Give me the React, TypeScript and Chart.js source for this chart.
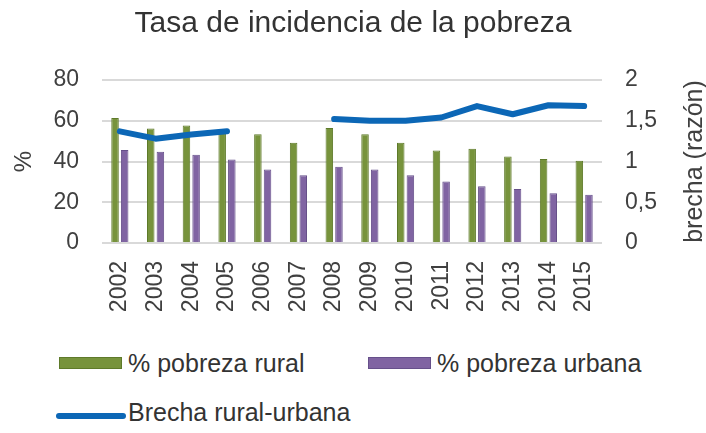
import React, { useEffect, useRef } from "react";
import { Chart, registerables } from "chart.js";

Chart.register(...registerables);

const years = ["2002", "2003", "2004", "2005", "2006", "2007", "2008", "2009", "2010", "2011", "2012", "2013", "2014", "2015"];
const ruralPct = [61.4, 56.2, 57.7, 55.5, 53.4, 49.2, 56.4, 53.4, 49.2, 45.4, 46.2, 42.5, 41.2, 40.4];
const urbanPct = [45.6, 44.8, 43.3, 41.0, 36.1, 33.2, 37.4, 36.1, 33.2, 30.2, 27.9, 26.5, 24.4, 23.7];
const gapRatio: (number | null)[] = [1.37, 1.28, 1.33, 1.37, null, null, 1.52, 1.5, 1.5, 1.54, 1.68, 1.58, 1.69, 1.68];
const leftTicks = [0, 20, 40, 60, 80];
const rightTicks = [0, 0.5, 1, 1.5, 2];

const titleText = "Tasa de incidencia de la pobreza";
const leftAxisTitle = "%";
const rightAxisTitle = "brecha (razón)";
const seriesNames = ["% pobreza rural", "% pobreza urbana", "Brecha rural-urbana"];

const GREEN = "#77933C";
const GREEN_BORDER = "#5E7A2A";
const PURPLE = "#8064A2";
const PURPLE_BORDER = "#66508A";
const BLUE = "#0C67B6";
const TEXT = "#404040";
const FONT = "'Liberation Sans', Arial, sans-serif";

export default function App() {
  const ref = useRef<HTMLCanvasElement | null>(null);

  useEffect(() => {
    document.body.style.margin = "0";
    const canvas = ref.current;
    if (!canvas) return;
    Chart.defaults.font.family = FONT;

    const rightTitlePlugin = {
      id: "rightTitle",
      afterDraw(chart: any) {
        const { ctx, chartArea } = chart;
        ctx.save();
        ctx.translate(695, (chartArea.top + chartArea.bottom) / 2);
        ctx.rotate(-Math.PI / 2);
        ctx.font = `25px ${FONT}`;
        ctx.fillStyle = TEXT;
        ctx.textAlign = "center";
        ctx.textBaseline = "middle";
        ctx.fillText(rightAxisTitle, 0, 0);
        ctx.restore();
      },
    };

    const chart = new Chart(canvas, {
      type: "bar",
      data: {
        labels: years,
        datasets: [
          {
            type: "line",
            label: seriesNames[2],
            data: gapRatio,
            yAxisID: "y1",
            borderColor: BLUE,
            backgroundColor: BLUE,
            borderWidth: 6,
            pointRadius: 0,
            borderCapStyle: "round",
            borderJoinStyle: "round",
            spanGaps: false,
            tension: 0,
            order: 0,
          } as any,
          {
            label: seriesNames[0],
            data: ruralPct,
            yAxisID: "y",
            backgroundColor: GREEN,
            borderColor: GREEN_BORDER,
            borderWidth: 1,
            categoryPercentage: 0.54,
            barPercentage: 0.78,
            order: 1,
          },
          {
            label: seriesNames[1],
            data: urbanPct,
            yAxisID: "y",
            backgroundColor: PURPLE,
            borderColor: PURPLE_BORDER,
            borderWidth: 1,
            categoryPercentage: 0.54,
            barPercentage: 0.78,
            order: 1,
          },
        ],
      },
      options: {
        animation: false,
        responsive: false,
        layout: { padding: 0 },
        plugins: {
          legend: { display: false },
          tooltip: { enabled: false },
          title: {
            display: true,
            text: titleText,
            color: "#333333",
            font: { size: 30, weight: "normal" as any, family: FONT },
            padding: { top: 6, bottom: 38 },
          },
        },
        scales: {
          x: {
            grid: { display: false, drawTicks: false },
            border: { display: false },
            ticks: {
              color: TEXT,
              font: { size: 23 },
              padding: 18,
              minRotation: 90,
              maxRotation: 90,
              autoSkip: false,
            },
            afterFit(scale: any) {
              scale.height = 87;
            },
          },
          y: {
            position: "left",
            min: leftTicks[0],
            max: leftTicks[leftTicks.length - 1],
            afterBuildTicks(scale: any) {
              scale.ticks = leftTicks.map((v) => ({ value: v }));
            },
            grid: { color: "#D9D9D9", lineWidth: 2, drawTicks: false },
            border: { display: false },
            ticks: { color: TEXT, font: { size: 23 }, padding: 23 },
            title: {
              display: true,
              text: leftAxisTitle,
              color: TEXT,
              font: { size: 24 },
              padding: { top: 10, bottom: 0 },
            },
            afterFit(scale: any) {
              scale.width = 102;
            },
          },
          y1: {
            position: "right",
            min: rightTicks[0],
            max: rightTicks[rightTicks.length - 1],
            afterBuildTicks(scale: any) {
              scale.ticks = rightTicks.map((v) => ({ value: v }));
            },
            grid: { display: false, drawTicks: false },
            border: { display: false },
            ticks: {
              color: TEXT,
              font: { size: 23 },
              padding: 23,
              callback: (v: any) => String(v).replace(".", ","),
            },
            afterFit(scale: any) {
              scale.width = 104;
            },
          },
        },
      },
      plugins: [rightTitlePlugin],
    });

    return () => chart.destroy();
  }, []);

  const itemText: React.CSSProperties = {
    fontFamily: FONT,
    fontSize: 25,
    color: "#333333",
    whiteSpace: "nowrap",
    lineHeight: "28px",
  };

  return (
    <div style={{ position: "relative", width: 706, height: 433, background: "#ffffff", overflow: "hidden" }}>
      <canvas ref={ref} width={706} height={330} style={{ display: "block", width: 706, height: 330 }} />
      <div style={{ position: "absolute", left: 59, top: 357, width: 63, height: 12, boxSizing: "border-box", background: GREEN, border: `1px solid ${GREEN_BORDER}` }} />
      <div style={{ ...itemText, position: "absolute", left: 128, top: 349 }}>{seriesNames[0]}</div>
      <div style={{ position: "absolute", left: 368, top: 357, width: 63, height: 12, boxSizing: "border-box", background: PURPLE, border: `1px solid ${PURPLE_BORDER}` }} />
      <div style={{ ...itemText, position: "absolute", left: 437, top: 349 }}>{seriesNames[1]}</div>
      <div style={{ position: "absolute", left: 56, top: 413, width: 70, height: 6, borderRadius: 3, background: BLUE }} />
      <div style={{ ...itemText, position: "absolute", left: 128, top: 398 }}>{seriesNames[2]}</div>
    </div>
  );
}
